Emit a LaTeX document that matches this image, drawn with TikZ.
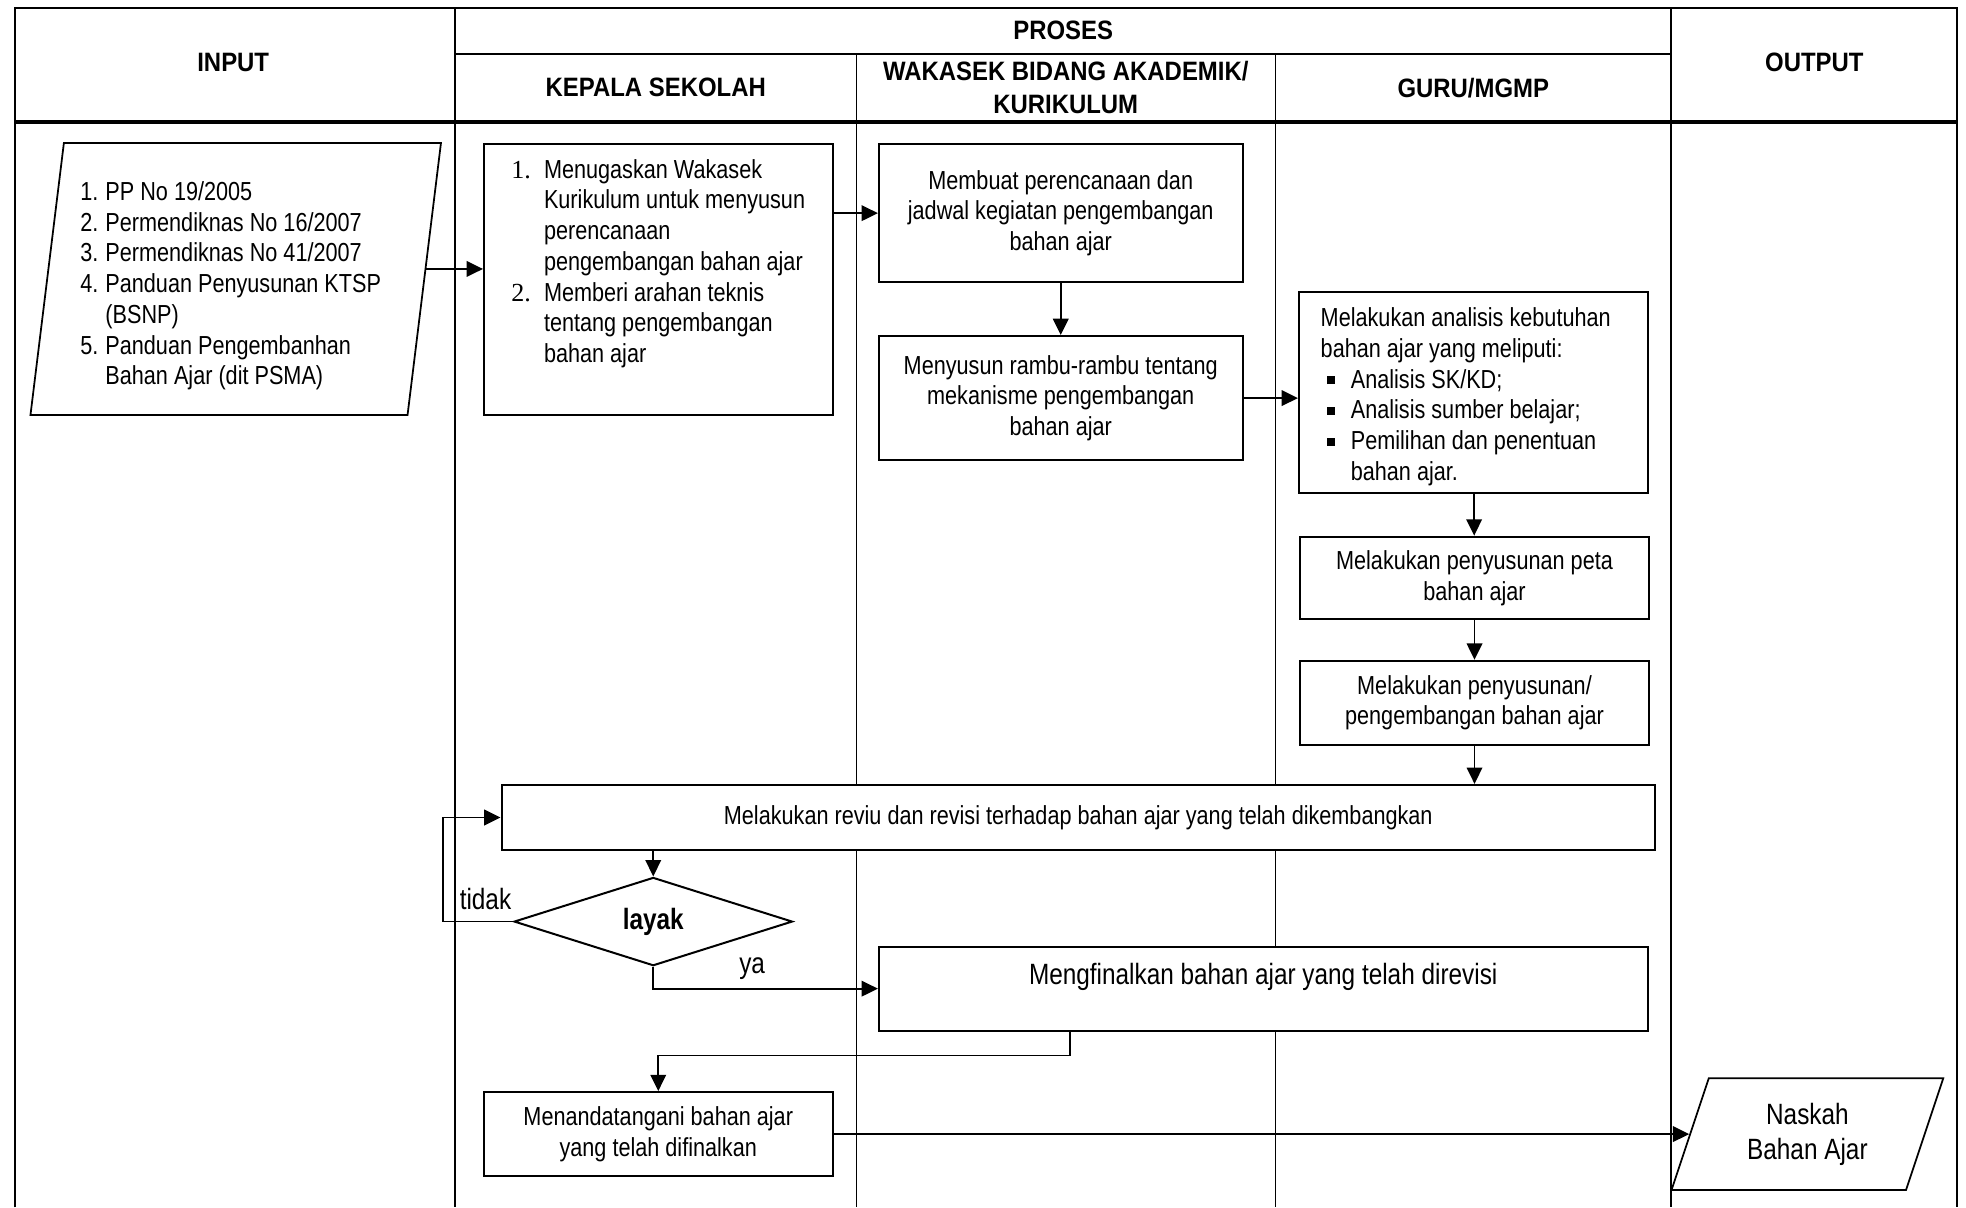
\documentclass[tikz,border=0pt]{standalone}
\usepackage{fontspec}
\setmainfont{Liberation Sans}[FakeStretch=0.83]
\newfontfamily\headfont{Liberation Sans}[FakeStretch=0.9]
\newfontfamily\numfont{Liberation Serif}
\usetikzlibrary{arrows.meta, shapes.geometric}

\tikzset{
  box/.style={rectangle, draw, fill=white, line width=0.8pt, minimum width=139pt, align=center, inner sep=2pt},
  iobox/.style={trapezium, draw, fill=white, line width=0.7pt, trapezium stretches, inner sep=0pt},
  arr/.style={-{Triangle[length=6.5pt,width=6.2pt]}, line width=0.7pt},
  head/.style={font=\headfont\bfseries\fontsize{10.6}{13}\selectfont, align=center},
  big/.style={font=\fontsize{11.7}{14}\selectfont},
}
\newcommand{\sqbullet}{\hspace{2.5pt}\rule[1.6pt]{3.2pt}{3.2pt}}

\begin{document}
\begin{tikzpicture}[x=0.5pt, y=-0.5pt, font=\fontsize{10.4}{12.25}\selectfont]
  \useasboundingbox (0,0) rectangle (1568,963);

  % table frame
  \draw[line width=0.8pt] (12,963) -- (12,6) -- (1561,6) -- (1561,963);
  \draw[line width=0.8pt] (363,6) -- (363,963);
  \draw[line width=0.8pt] (1333,6) -- (1333,963);
  \draw[line width=0.8pt] (363,43) -- (1333,43);
  \draw[line width=0.4pt] (683,43) -- (683,963);
  \draw[line width=0.4pt] (1017,43) -- (1017,963);
  \draw[line width=1.6pt] (12,97) -- (1561,97);

  \node (hin) [head] at (186,50) {INPUT};
  \node (hproc) [head] at (848,24) {PROSES};
  \node (hout) [head] at (1447,50) {OUTPUT};
  \node (hks) [head] at (523,70) {KEPALA SEKOLAH};
  \node (hwk) [head] at (850,70) {WAKASEK BIDANG AKADEMIK/\\KURIKULUM};
  \node (hgr) [head] at (1175,70) {GURU/MGMP};

  % input and output
  \node (input) [iobox, trapezium left angle=82, trapezium right angle=98,
    minimum width=164pt, minimum height=108.5pt] at (188,222.5) {%
    \raisebox{-3pt}[\height][\depth]{\begin{tabular}{@{}l@{\hspace{2.8pt}}l@{}}
      1. & PP No 19/2005\\
      2. & Permendiknas No 16/2007\\
      3. & Permendiknas No 41/2007\\
      4. & Panduan Penyusunan KTSP\\
         & (BSNP)\\
      5. & Panduan Pengembanhan\\
         & Bahan Ajar (dit PSMA)
    \end{tabular}}\hspace{4pt}\mbox{}};
  \node (out) [iobox, big, align=center, trapezium left angle=70, trapezium right angle=110,
    minimum width=108.5pt, minimum height=44.5pt] at (1441.5,904.5) {Naskah\\Bahan Ajar};

  % kepala sekolah
  \node (ks1) [box, minimum height=108pt] at (525,223) {%
    \begin{tabular}{@{}p{13pt}@{}l@{}}
      {\numfont 1.} & Menugaskan Wakasek\\
       & Kurikulum untuk menyusun\\
       & perencanaan\\
       & pengembangan bahan ajar\\
      {\numfont 2.} & Memberi arahan teknis\\
       & tentang pengembangan\\
       & bahan ajar\\
       &
    \end{tabular}};
  \node (sign) [box, minimum height=33.5pt] at (525,904.5) {Menandatangani bahan ajar\\yang telah difinalkan};

  % wakasek
  \node (w1) [box, minimum width=145pt, minimum height=55pt] at (846,170) {Membuat perencanaan dan\\jadwal kegiatan pengembangan\\bahan ajar};
  \node (w2) [box, minimum width=145pt, minimum height=49.5pt] at (846,317.5) {Menyusun rambu-rambu tentang\\mekanisme pengembangan\\bahan ajar};

  % guru
  \node (g1) [box, minimum height=80pt] at (1175,313) {%
    \raisebox{-2pt}[\height][\depth]{\begin{tabular}{@{}p{12pt}@{}l@{}}
      \multicolumn{2}{@{}l@{}}{Melakukan analisis kebutuhan}\\
      \multicolumn{2}{@{}l@{}}{bahan ajar yang meliputi:}\\
      \sqbullet & Analisis SK/KD;\\
      \sqbullet & Analisis sumber belajar;\\
      \sqbullet & Pemilihan dan penentuan\\
       & bahan ajar.
    \end{tabular}}\hspace{6pt}};
  \node (g2) [box, minimum height=33pt] at (1176,461) {Melakukan penyusunan peta\\bahan ajar};
  \node (g3) [box, minimum height=33.5pt] at (1176,560.5) {Melakukan penyusunan/\\pengembangan bahan ajar};

  % review, decision, final
  \node (rev) [box, minimum width=460pt, minimum height=26pt] at (860,652) {Melakukan reviu dan revisi terhadap bahan ajar yang telah dikembangkan};
  \node (dec) [diamond, draw, fill=white, line width=0.8pt, minimum width=111pt, minimum height=33.5pt, inner sep=0pt,
    font=\bfseries\fontsize{11.7}{14}\selectfont] at (521,735) {layak};
  \node (fin) [box, big, minimum width=306.5pt, minimum height=33.5pt, text height=9pt, text depth=12pt] at (1007.5,788.5) {Mengfinalkan bahan ajar yang telah direvisi};

  % connectors
  \draw[arr] ([yshift=4pt]input.east) -- ([yshift=4pt]input.east -| ks1.west);
  \draw[arr] (ks1.east |- w1.west) -- (w1.west);
  \draw[arr] (w1) -- (w2);
  \draw[arr] (w2.east) -- (w2.east -| g1.west);
  \draw[arr] (g1) -- (g2);
  \draw[arr] (g2) -- (g3);
  \draw[arr] (g3.south) -- (g3.south |- rev.north);
  \draw[arr] (rev.south -| dec.north) -- (dec.north);
  \draw[arr] (dec.west) -- node[above, big, xshift=3pt, yshift=1pt] {tidak} ++(-56,0) |- (rev.west);
  \draw[arr] (dec.south) |- node[pos=0.72, above, big] {ya} (fin.west);
  \draw[arr] ([xshift=-77pt]fin.south) -- ++(0,19) -| (sign.north);
  \draw[arr] (sign) -- (out);
\end{tikzpicture}
\end{document}
